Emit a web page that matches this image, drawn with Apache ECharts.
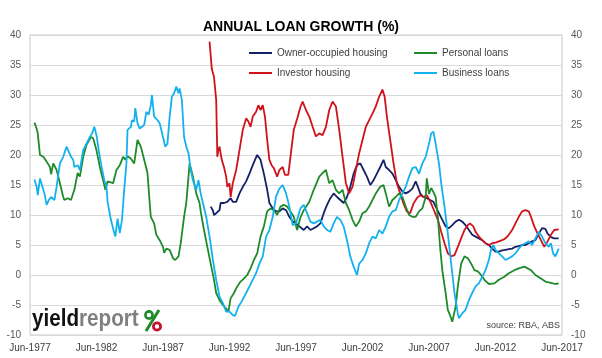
<!DOCTYPE html>
<html>
<head>
<meta charset="utf-8">
<script src="https://cdn.jsdelivr.net/npm/echarts@6/dist/echarts.min.js"></script>
<style>
html,body{margin:0;padding:0;background:#fff;}
#chart{width:602px;height:358px;}
</style>
</head>
<body>
<div id="chart"></div>
<script>
// x values are months since Jun-1977
const xTickLabels = ['Jun-1977','Jun-1982','Jun-1987','Jun-1992','Jun-1997','Jun-2002','Jun-2007','Jun-2012','Jun-2017'];
const seriesNames = ['Owner-occupied housing','Personal loans','Investor housing','Business loans'];

const ownerOccupied = [[163,11.4],[165,10.8],[166,10],[168,10.3],[171,10.8],[172,12],[175,12],[178,12.2],[181,12.8],[183,12.2],[186,12.2],[189,13.6],[192,14.7],[195,15.6],[198,16.9],[201,18.3],[203,19.2],[205,20],[208,19.2],[211,16.9],[214,14.2],[216,12],[219,11.1],[222,10.6],[225,10.6],[228,11.1],[231,10.8],[234,9.7],[237,8.9],[240,8.6],[243,8.1],[247,7.5],[250,8.1],[253,7.5],[256,7.8],[259,8.1],[262,8.6],[265,10.3],[268,11.7],[271,12.8],[274,13.6],[277,13],[280,12.5],[283,12],[286,13],[289,14.7],[292,16.9],[295,18.3],[298,18.6],[301,17.5],[304,16.4],[307,15],[310,15.8],[313,16.9],[316,18],[319,19.2],[321,18],[324,17.5],[327,16.9],[330,15.8],[333,14.7],[336,13.9],[339,13.6],[342,13.9],[345,14.4],[348,15.6],[350,14.7],[352,13.6],[355,13],[358,12.8],[361,12.5],[364,12.2],[366,11.4],[369,10.3],[372,9.2],[375,8.1],[378,7.8],[381,8.3],[384,8.9],[387,9.2],[390,8.9],[393,8.3],[396,7.5],[399,6.7],[402,6.4],[405,6.1],[408,5.8],[411,5.3],[414,5],[417,4.4],[420,3.9],[423,3.9],[426,4.1],[429,4.2],[432,4.3],[435,4.4],[438,4.7],[441,4.8],[444,5],[447,5],[450,5.3],[453,5.6],[456,5.8],[459,6.9],[462,7.8],[465,7.7],[467,6.9],[470,6.3],[473,6.1],[477,6.1]];

const investorHousing = [[162,38.9],[164,34.4],[166,33],[168,29.2],[169,19.7],[170,20.8],[171,21.4],[173,19.2],[175,18],[177,16.4],[178,14.7],[180,15.3],[181,13],[183,15.3],[186,17.5],[189,20.8],[192,24.2],[195,26.1],[197,25.6],[199,24.7],[201,26.4],[204,27.2],[206,28.3],[208,27.5],[210,28.3],[212,26.4],[214,22.5],[216,19.2],[218,18.3],[220,17.8],[223,16.4],[225,17.5],[228,18],[230,16.7],[233,16.7],[235,19.7],[238,24.2],[241,26],[244,28],[246,28.9],[249,27.5],[252,26.4],[255,24.7],[258,23.1],[261,23.6],[264,23.3],[267,24.7],[270,27.5],[273,28.9],[276,28.1],[279,24.2],[282,19.7],[285,15.3],[288,13.6],[291,14.7],[294,17.5],[297,20.3],[300,22.5],[303,24.7],[306,25.8],[309,26.9],[312,28.1],[315,29.7],[318,30.9],[320,29.7],[322,26.4],[325,22.5],[328,18.6],[331,15.3],[334,13.6],[337,11.9],[340,10.6],[343,10.3],[346,11.9],[349,12.8],[352,13.3],[355,13],[358,13.3],[361,12.3],[364,11],[368,9.2],[371,7.2],[374,5.3],[377,3.6],[380,3.1],[383,3.3],[386,4.7],[389,6.1],[392,7.5],[395,8.3],[397,8.6],[400,8.1],[402,7.2],[405,6.4],[408,5.8],[411,5.3],[414,5],[417,5.3],[420,5.4],[423,5.6],[426,5.8],[429,6.1],[432,6.7],[435,7.5],[438,8.6],[441,9.7],[444,10.6],[447,10.8],[450,10.6],[452,9.7],[455,8.1],[458,6.9],[461,5.8],[464,4.7],[467,5.6],[470,6.7],[473,7.5],[477,7.6]];

const personalLoans = [[4,25.4],[6,24.4],[7,23.6],[9,20],[12,19.7],[15,18.9],[18,18],[19,16.8],[21,18.6],[24,17.5],[27,15.3],[30,13],[31,12.5],[34,12.8],[37,12.5],[40,14.2],[43,17],[45,16.4],[48,19.7],[51,21.7],[55,23],[57,22.8],[60,20.8],[63,18],[66,15.8],[68,14.2],[70,15.6],[75,15.3],[78,17.5],[81,18.3],[84,19.7],[86,19.2],[88,19.8],[91,19.4],[94,18.6],[97,22.5],[100,21.4],[103,19.2],[106,17],[108,12],[109,9.7],[112,8.6],[114,6.7],[117,5.8],[120,4.7],[121,3.7],[123,4.4],[126,4.2],[129,2.8],[131,2.5],[134,3.1],[136,5.3],[139,9.7],[141,12],[144,18.6],[145,18.9],[147,16.4],[150,13.6],[153,12],[154,10.6],[157,7.5],[160,4.7],[163,1.9],[166,-0.8],[168,-3],[171,-4.2],[174,-5],[177,-5.6],[179,-6.1],[181,-3.9],[184,-3],[187,-1.9],[190,-1.1],[193,-0.6],[196,0],[199,1.1],[202,2.5],[205,3.6],[208,6.4],[211,8.1],[214,10.6],[217,11.1],[220,10.8],[223,10],[226,11.4],[229,11.7],[232,11.4],[235,10.6],[238,9.7],[241,7.5],[244,9.6],[247,10.8],[252,12.2],[256,14.2],[261,16.4],[264,17],[267,17.5],[270,15.3],[273,15.8],[276,14.2],[279,13.6],[282,14.2],[285,12],[288,10.8],[291,9.2],[294,8.1],[297,8.9],[300,10.3],[303,10.6],[306,11.4],[309,12.5],[312,13.6],[316,14.7],[319,15],[321,13.6],[324,11.4],[327,12.5],[330,13],[333,13.6],[336,13],[339,11.4],[342,10],[345,9.7],[348,9.7],[351,10.6],[354,11.1],[357,13],[358,16.1],[360,13.5],[362,14.5],[364,13.8],[366,13],[368,9.7],[370,4.7],[372,0.8],[375,-3],[377,-5.8],[379,-6.7],[381,-7.8],[384,-5.3],[386,-1.9],[389,1.9],[392,3.1],[395,2.8],[398,1.9],[401,0.8],[404,0.6],[407,0],[410,-0.8],[414,-1.5],[419,-1.4],[423,-0.8],[428,-0.3],[432,0.3],[437,0.8],[441,1.1],[446,1.4],[449,1.1],[452,0.8],[456,0],[461,-0.6],[465,-1.1],[470,-1.3],[474,-1.5],[477,-1.4]];

const businessLoans = [[4,15.9],[6,14.7],[7,13.3],[9,16.1],[10,15.8],[13,13.6],[15,11.7],[17,12.5],[19,13],[22,12.5],[24,14.7],[27,18.6],[30,19.7],[33,21.4],[34,21.5],[37,19.7],[39,19.2],[40,18],[43,18.3],[45,17.5],[48,20.8],[51,21.9],[54,23],[56,23.6],[58,24.7],[60,23.3],[62,20.8],[64,18.6],[67,15.8],[69,14.7],[70,12.2],[73,9.2],[76,7],[77,6.4],[79,9.4],[81,7],[83,9.2],[85,14.2],[87,18.6],[88,24.2],[91,24.7],[92,25.8],[94,25.6],[95,27.8],[97,25.3],[99,24.4],[101,24.7],[103,25],[105,27.2],[107,26.7],[109,28.3],[110,30],[112,26.4],[115,25.8],[117,25.3],[120,23],[122,21.4],[124,21.9],[126,26.4],[128,29.7],[130,30.3],[132,31.4],[134,30.3],[135,31.1],[137,29.2],[139,23],[141,21.4],[143,20.3],[145,17.5],[147,15.8],[150,14.2],[152,15.8],[154,13.6],[156,12],[159,9.7],[162,6.4],[165,2.5],[168,-0.8],[171,-3.6],[174,-4.7],[177,-6.1],[180,-6.1],[183,-6.7],[185,-6.8],[188,-5.3],[191,-4.4],[195,-3],[198,-1.9],[201,-0.8],[204,0.3],[207,1.9],[210,3.1],[213,6.4],[216,7.5],[219,9.7],[222,13.1],[225,14.4],[228,15],[231,13.6],[234,11.4],[237,8.3],[240,8.6],[243,10.5],[244,11.1],[247,11.7],[250,10.3],[253,8.9],[256,8.6],[259,8.9],[262,9.2],[265,8.1],[268,7.5],[271,7.2],[274,8.6],[277,9.7],[280,9.2],[283,8.1],[286,5.8],[289,3.1],[292,1.4],[295,0],[297,1.9],[300,2.5],[303,3.6],[306,5.3],[309,6.4],[312,6.1],[315,7.5],[318,6.9],[321,8.1],[324,9.7],[327,10.6],[330,10.8],[333,12.5],[336,13.6],[339,14.7],[342,16.4],[345,17.8],[348,18],[351,16.9],[354,18.6],[357,19.7],[360,21.9],[362,23.6],[364,23.9],[366,21.9],[369,18.6],[371,15.3],[374,11.4],[377,6.9],[380,1.9],[383,-3],[386,-6.4],[387,-7.2],[390,-6.4],[393,-5.8],[396,-4.2],[399,-3],[402,-1.9],[405,-1.4],[408,-0.3],[411,0.8],[414,2.5],[416,4.2],[418,5],[420,4.2],[423,3.6],[426,3.1],[429,2.5],[432,2.8],[435,3.1],[438,3.6],[441,4.4],[444,5],[447,5.3],[450,5.6],[453,5],[456,6.1],[459,7.2],[462,6.4],[465,5.3],[468,4.7],[470,5.3],[472,3.6],[474,3.1],[477,4.4]];

const colors = {owner:'#142068', personal:'#1f8a2a', investor:'#d0121b', business:'#14b1ef'};
const font = '"Liberation Sans", Arial, sans-serif';

const chart = echarts.init(document.getElementById('chart'), null, {renderer:'canvas'});
const yAxisBase = {
  type:'value', min:-10, max:40, interval:5,
  axisLine:{show:false}, axisTick:{show:false},
  axisLabel:{color:'#595959', fontSize:10, fontFamily:font, margin:9}
};
function mk(name, data, color){
  return {name, type:'line', data, showSymbol:false, symbol:'none',
    lineStyle:{width:1.8, color}, itemStyle:{color}, emphasis:{disabled:true}, animation:false};
}
const legendBase = {orient:'vertical', icon:'rect', itemWidth:23, itemHeight:2, itemGap:8,
  textStyle:{fontSize:10, fontFamily:font, color:'#404040', lineHeight:12}, selectedMode:false};

chart.setOption({
  animation:false,
  backgroundColor:'#fff',
  title:{text:'ANNUAL LOAN GROWTH (%)', left:'center', top:15,
    textStyle:{fontSize:14, fontWeight:'bold', fontFamily:font, color:'#000'}},
  legend:[
    Object.assign({}, legendBase, {left:244, top:42, data:[seriesNames[0], seriesNames[2]]}),
    Object.assign({}, legendBase, {left:409, top:42, data:[seriesNames[1], seriesNames[3]]})
  ],
  grid:{left:30, right:40, top:35, bottom:23, show:true, borderColor:'#c8c8c8', borderWidth:1, containLabel:false},
  xAxis:{type:'value', min:0, max:480, interval:60,
    axisLine:{show:false}, axisTick:{show:false}, splitLine:{show:false},
    axisLabel:{color:'#404040', fontSize:10, fontFamily:font, margin:8,
      formatter:(v)=>xTickLabels[Math.round(v/60)]}},
  yAxis:[
    Object.assign({}, yAxisBase, {position:'left', splitLine:{show:true, lineStyle:{color:'#d9d9d9', width:1}}}),
    Object.assign({}, yAxisBase, {position:'right', splitLine:{show:false}})
  ],
  series:[
    mk(seriesNames[0], ownerOccupied, colors.owner),
    mk(seriesNames[2], investorHousing, colors.investor),
    mk(seriesNames[1], personalLoans, colors.personal),
    mk(seriesNames[3], businessLoans, colors.business)
  ],
  graphic:[
    {type:'group', left:32, top:307, z:10, children:[
      {type:'text', x:0, y:0, scaleX:0.86, style:{
        text:'{a|yield}{b|report}',
        rich:{
          a:{fontSize:24, fontWeight:'bold', fontFamily:font, fill:'#111'},
          b:{fontSize:24, fontWeight:'bold', fontFamily:font, fill:'#808080'}
        }}},
      {type:'circle', shape:{cx:117, cy:8, r:3.6}, style:{fill:'none', stroke:'#1f8a2a', lineWidth:2.6}},
      {type:'line', shape:{x1:127, y1:3, x2:114, y2:24}, style:{stroke:'#1f8a2a', lineWidth:3}},
      {type:'circle', shape:{cx:125, cy:19.5, r:3.6}, style:{fill:'#fff', stroke:'#c8102e', lineWidth:2.8}}
    ]},
    {type:'text', right:42, top:321, z:10, style:{text:'source: RBA, ABS', fontSize:9, fontFamily:font, fill:'#404040'}}
  ]
});
</script>
</body>
</html>
